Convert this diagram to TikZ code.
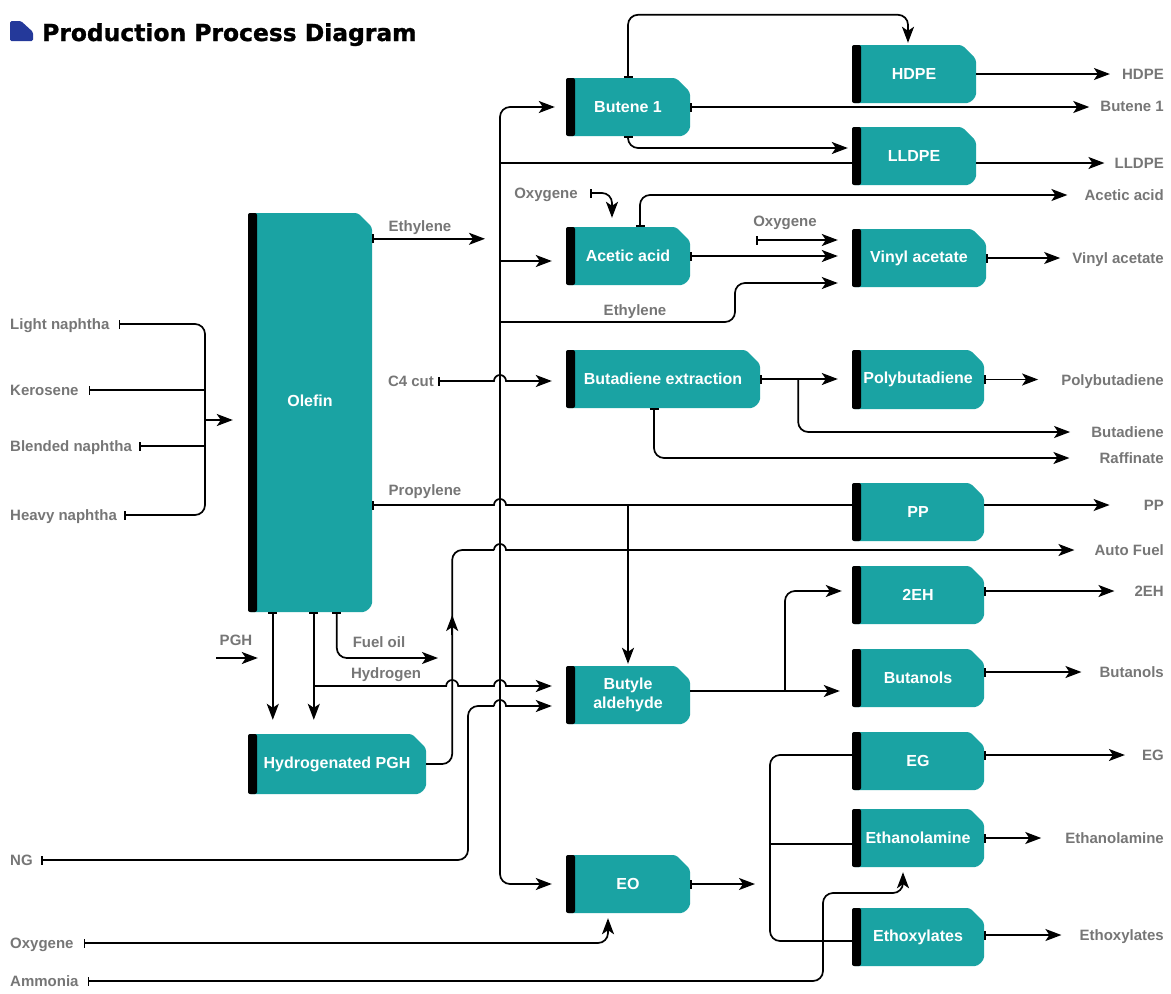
\documentclass[tikz,border=0pt]{standalone}
\usepackage{fontspec}
\setsansfont{Liberation Sans}
\newfontfamily\titlefont{DejaVu Sans}[BoldFeatures={FakeBold=1.2}]
\usetikzlibrary{arrows.meta,calc}

\definecolor{procteal}{HTML}{1AA3A3}
\definecolor{flowgray}{HTML}{767676}
\definecolor{titleblue}{HTML}{24399A}

\tikzset{
  >={Stealth[length=16pt, width=12pt, inset=4pt]},
  proc/.style={rectangle, fill=white, inner sep=0pt, text=white, align=center,
    font=\sffamily\bfseries\fontsize{16}{19}\selectfont,
    path picture={
      \fill[procteal, rounded corners=3pt] (path picture bounding box.west)
        -- (path picture bounding box.north west)
        -- ([xshift=-14pt]path picture bounding box.north east)
        -- ([yshift=-14pt]path picture bounding box.north east)
        -- ([yshift=12pt]path picture bounding box.south east)
        arc[start angle=0, end angle=-90, radius=12pt]
        -- (path picture bounding box.south west) -- cycle;
      \fill[black, rounded corners=2pt] (path picture bounding box.south west)
        rectangle ([xshift=9pt]path picture bounding box.north west);
    }},
  flowlab/.style={inner sep=0pt, text=flowgray, text height=11pt, text depth=0pt,
    font=\sffamily\bfseries\fontsize{15}{18}\selectfont},
  link/.style={line width=1.7pt, rounded corners=10pt},
  arr/.style={link, ->},
  tarr/.style={link, {Bar[width=9pt]}->},
  tline/.style={link, {Bar[width=9pt]}-},
}

\begin{document}
\begin{tikzpicture}[x=1pt, y=-1pt]
\useasboundingbox (0,0) rectangle (1171,994);

% === Title ===
\fill[titleblue, rounded corners=1.5pt] (10,41) -- (10,21) -- (21,21) -- (33,32) -- (33,41) -- cycle;
\node[anchor=base west, inner sep=0pt, font=\titlefont\bfseries\fontsize{23.4}{27}\selectfont] (title) at (42,41) {Production Process Diagram};

% === Units ===
\node[proc, minimum width=124pt, minimum height=399pt] (olefin) at (310,412.5) {\raisebox{6pt}[0pt][0pt]{Olefin}};
\node[proc, minimum width=124pt, minimum height=58pt] (butene) at (628,107) {Butene 1};
\node[proc, minimum width=124pt, minimum height=58pt] (hdpe) at (914,74) {HDPE};
\node[proc, minimum width=124pt, minimum height=58pt] (lldpe) at (914,156) {LLDPE};
\node[proc, minimum width=124pt, minimum height=58pt] (acetic) at (628,256) {Acetic acid};
\node[proc, minimum width=134pt, minimum height=58pt] (vinyl) at (919,258) {Vinyl acetate};
\node[proc, minimum width=194pt, minimum height=58pt] (butadiene) at (663,379) {Butadiene extraction};
\node[proc, minimum width=132pt, minimum height=59pt] (polybut) at (918,379.5) {Polybutadiene};
\node[proc, minimum width=132pt, minimum height=58pt] (pp) at (918,512) {PP};
\node[proc, minimum width=132pt, minimum height=58pt] (twoeh) at (918,595) {2EH};
\node[proc, minimum width=132pt, minimum height=58pt] (butanols) at (918,678) {Butanols};
\node[proc, minimum width=124pt, minimum height=58pt] (aldehyde) at (628,695) {Butyle\\aldehyde};
\node[proc, minimum width=178pt, minimum height=60pt] (hpgh) at (337,764) {Hydrogenated PGH};
\node[proc, minimum width=132pt, minimum height=58pt] (eg) at (918,761) {EG};
\node[proc, minimum width=132pt, minimum height=58pt] (ethanol) at (918,838) {Ethanolamine};
\node[proc, minimum width=124pt, minimum height=58pt] (eo) at (628,884) {EO};
\node[proc, minimum width=132pt, minimum height=58pt] (ethoxy) at (918,937) {Ethoxylates};

% === Feed labels ===
\node[flowlab, anchor=west] (lnaph) at (10,324) {Light naphtha};
\node[flowlab, anchor=west] (kero) at (10,390) {Kerosene};
\node[flowlab, anchor=west] (bnaph) at (10,446) {Blended naphtha};
\node[flowlab, anchor=west] (hnaph) at (10,515) {Heavy naphtha};
\node[flowlab, anchor=west] (ng) at (10,860) {NG};
\node[flowlab, anchor=west] (oxyb) at (10,943) {Oxygene};
\node[flowlab, anchor=west] (ammonia) at (10,981) {Ammonia};

% === Stream labels ===
\node[flowlab] (ethlab) at (420,226) {Ethylene};
\node[flowlab] (c4) at (411,381) {C4 cut};
\node[flowlab] (proplab) at (425,490) {Propylene};
\node[flowlab] (ethlab2) at (635,310) {Ethylene};
\node[flowlab] (oxyt) at (546,193) {Oxygene};
\node[flowlab] (oxym) at (785,221) {Oxygene};
\node[flowlab] (pghlab) at (236,640) {PGH};
\node[flowlab] (fuellab) at (379,642) {Fuel oil};
\node[flowlab] (h2lab) at (386,673) {Hydrogen};

% === Product labels ===
\node[flowlab, anchor=east] (outhdpe) at (1164,74) {HDPE};
\node[flowlab, anchor=east] (outbutene) at (1164,106) {Butene 1};
\node[flowlab, anchor=east] (outlldpe) at (1164,163) {LLDPE};
\node[flowlab, anchor=east] (outacetic) at (1164,195) {Acetic acid};
\node[flowlab, anchor=east] (outvinyl) at (1164,258) {Vinyl acetate};
\node[flowlab, anchor=east] (outpolyb) at (1164,380) {Polybutadiene};
\node[flowlab, anchor=east] (outbutad) at (1164,432) {Butadiene};
\node[flowlab, anchor=east] (outraff) at (1164,458) {Raffinate};
\node[flowlab, anchor=east] (outpp) at (1164,505) {PP};
\node[flowlab, anchor=east] (outfuel) at (1164,550) {Auto Fuel};
\node[flowlab, anchor=east] (outtwoeh) at (1164,591) {2EH};
\node[flowlab, anchor=east] (outbutanol) at (1164,672) {Butanols};
\node[flowlab, anchor=east] (outeg) at (1164,755) {EG};
\node[flowlab, anchor=east] (outethanol) at (1164,838) {Ethanolamine};
\node[flowlab, anchor=east] (outethoxy) at (1164,935) {Ethoxylates};

% === Feeds into olefin ===
\coordinate (feed) at (205,420);
\draw[link, {Bar[width=9pt]}-{Bar[width=9pt]}] ([xshift=9pt]lnaph.east) -- (lnaph.east -| feed) -- (hnaph.east -| feed) -- ([xshift=7pt]hnaph.east);
\draw[tline] ([xshift=10pt]kero.east) -- (kero.east -| feed);
\draw[tline] ([xshift=7pt]bnaph.east) -- (bnaph.east -| feed);
\draw[arr, shorten >=15pt] (feed) -- (feed -| olefin.west);

% === Ethylene bus ===
\coordinate (bus) at (500,500);
\coordinate (ethout) at ([yshift=-26pt]olefin.north east);
\draw[tarr, shorten >=15pt] (ethout) -- (ethout -| bus);
\draw[link, <->, shorten <=11pt, shorten >=14pt] (butene.west) -- (butene.west -| bus) -- (eo.west -| bus) -- (eo.west);
\draw[link] (outlldpe.west -| bus) -- (outlldpe.west -| lldpe.west);
\coordinate (aceticin) at ([yshift=-5pt]acetic.west);
\draw[arr, shorten >=14pt] (aceticin -| bus) -- (aceticin);
\coordinate (ethtap) at (500,322);
\coordinate (ethrise) at (735,283);
\draw[arr, shorten >=14pt] (ethtap) -- (ethtap -| ethrise) -- (ethrise) -- (ethrise -| vinyl.west);

% === Butene 1, HDPE, LLDPE ===
\coordinate (looptop) at ([yshift=63pt]butene.north);
\coordinate (hdpein) at ([xshift=-6pt]hdpe.north);
\draw[tarr, shorten >=2pt] (butene.north) -- (looptop) -- (looptop -| hdpein) -- (hdpein);
\coordinate (lldpein) at ([yshift=8pt]lldpe.west);
\draw[tarr, shorten >=4pt] (butene.south) -- (butene.south |- lldpein) -- (lldpein);
\draw[tarr, shorten >=11pt] (butene.east) -- (butene.east -| outbutene.west);
\draw[arr, shorten >=12pt] (hdpe.east) -- (outhdpe.west);
\draw[arr, shorten >=10pt] (outlldpe.west -| lldpe.east) -- (outlldpe.west);

% === Acetic acid, vinyl acetate ===
\coordinate (oxydown) at ([xshift=-16pt]acetic.north);
\draw[tarr, shorten >=9pt] ([xshift=12pt]oxyt.east) -- (oxyt.east -| oxydown) -- (oxydown);
\coordinate (aceticout) at ([xshift=12pt]acetic.north);
\draw[tarr, shorten >=17pt] (aceticout) -- (aceticout |- outacetic.west) -- (outacetic.west);
\coordinate (oxyin) at ([xshift=-29pt, yshift=-19pt]oxym.center);
\draw[tarr, shorten >=14pt] (oxyin) -- (oxyin -| vinyl.west);
\draw[tarr, shorten >=14pt] (acetic.east) -- (acetic.east -| vinyl.west);
\draw[tarr, shorten >=12pt] (vinyl.east) -- (vinyl.east -| outvinyl.west);

% === C4 cut, butadiene ===
\draw[tarr, sharp corners, shorten >=14pt] ([xshift=4pt]c4.east) -- ($(c4.east -| bus)+(-6pt,0)$) arc[start angle=180, end angle=0, radius=6pt] -- (c4.east -| butadiene.west);
\draw[tarr, shorten >=14pt] (butadiene.east) -- (butadiene.east -| polybut.west);
\coordinate (bdsplit) at ([xshift=38pt]butadiene.east);
\draw[arr, shorten >=21pt] (bdsplit) -- (bdsplit |- outbutad.west) -- (outbutad.west);
\coordinate (raffout) at ([xshift=-9pt]butadiene.south);
\draw[tarr, shorten >=30pt] (raffout) -- (raffout |- outraff.west) -- (outraff.west);
\draw[tarr, shorten >=23pt] (polybut.east) -- (polybut.east -| outpolyb.west);

% === Propylene ===
\coordinate (propout) at (olefin.east |- outpp.west);
\draw[tline, sharp corners] (propout) -- ($(propout -| bus)+(-6pt,0)$) arc[start angle=180, end angle=0, radius=6pt] -- (propout -| pp.west);
\draw[arr, shorten >=2pt] (propout -| aldehyde.north) -- (aldehyde.north);
\draw[arr, shorten >=34pt] (propout -| pp.east) -- (outpp.west);

% === Hydrogenated PGH, auto fuel ===
\coordinate (fuelrise) at ([xshift=26pt]hpgh.east);
\draw[link] (hpgh.east) -- (fuelrise) -- (fuelrise |- outfuel.west) -- ($(outfuel.west -| bus)+(-6pt,0)$);
\draw[arr, sharp corners, shorten >=20pt] ($(outfuel.west -| bus)+(-6pt,0)$) arc[start angle=180, end angle=0, radius=6pt] -- (outfuel.west);
\coordinate (fuelmid) at ([yshift=149pt]fuelrise);
\draw[arr] ([yshift=-20pt]fuelmid) -- (fuelmid);

\coordinate (tapa) at ([xshift=25pt]olefin.south west);
\coordinate (tapb) at ([xshift=66pt]olefin.south west);
\coordinate (tapc) at ([xshift=89pt]olefin.south west);
\draw[tarr, shorten >=14pt] (tapa) -- (tapa |- hpgh.north);
\draw[tarr, shorten >=14pt] (tapb) -- (tapb |- hpgh.north);
\coordinate (h2in) at ([yshift=9pt]aldehyde.west);
\draw[arr, sharp corners, shorten >=14pt] (tapb |- h2in) -- ($(h2in -| fuelrise)+(-6pt,0)$) arc[start angle=180, end angle=0, radius=6pt] -- ($(h2in -| bus)+(-6pt,0)$) arc[start angle=180, end angle=0, radius=6pt] -- (h2in);
\coordinate (fueloil) at (438,658);
\draw[tarr] (tapc) -- (tapc |- fueloil) -- (fueloil);
\coordinate (pghin) at (216,658);
\draw[arr, shorten >=15pt] (pghin) -- (pghin -| tapa);

% === NG ===
\coordinate (ngin) at ([yshift=-11pt]aldehyde.west);
\coordinate (ngrise) at (468,800);
\draw[tline] ([xshift=8pt]ng.east) -- (ng.east -| ngrise) -- (ngrise |- ngin) -- ($(ngin -| bus)+(-6pt,0)$);
\draw[arr, sharp corners, shorten >=14pt] ($(ngin -| bus)+(-6pt,0)$) arc[start angle=180, end angle=0, radius=6pt] -- (ngin);

% === Butyle aldehyde ===
\coordinate (aldout) at ([yshift=4pt]aldehyde.east);
\coordinate (alsplit) at (785,691);
\draw[arr, shorten >=12pt] (aldout) -- (aldout -| butanols.west);
\draw[arr, shorten >=10pt] (alsplit) -- (alsplit |- outtwoeh.west) -- (outtwoeh.west -| twoeh.west);
\draw[tarr, shorten >=20pt] (outtwoeh.west -| twoeh.east) -- (outtwoeh.west);
\draw[tarr, shorten >=18pt] (outbutanol.west -| butanols.east) -- (outbutanol.west);

% === EO and derivatives ===
\coordinate (eooxy) at ([xshift=-20pt]eo.south);
\draw[tarr, shorten >=5pt] ([xshift=10pt]oxyb.east) -- (oxyb.east -| eooxy) -- (eooxy);
\coordinate (eobr) at (770,840);
\draw[tarr, shorten >=15pt] (eo.east) -- (eo.east -| eobr);
\coordinate (egin) at ([yshift=6pt]eg.west);
\coordinate (ethin) at ([yshift=-6pt]ethanol.west);
\coordinate (etoin) at ([yshift=-4pt]ethoxy.west);
\draw[link] (egin) -- (egin -| eobr) -- (etoin -| eobr) -- (etoin);
\draw[link] (ethin -| eobr) -- (ethin);
\coordinate (amrise) at (823,893);
\coordinate (amup) at ([xshift=-15pt]ethanol.south);
\draw[tarr, shorten >=5pt] ([xshift=9pt]ammonia.east) -- (ammonia.east -| amrise) -- (amrise) -- (amrise -| amup) -- (amup);
\draw[tarr, shorten >=17pt] (outeg.west -| eg.east) -- (outeg.west);
\draw[tarr, shorten >=24pt] (ethanol.east) -- (ethanol.east -| outethanol.west);
\draw[tarr, shorten >=18pt] (outethoxy.west -| ethoxy.east) -- (outethoxy.west);

\end{tikzpicture}
\end{document}
